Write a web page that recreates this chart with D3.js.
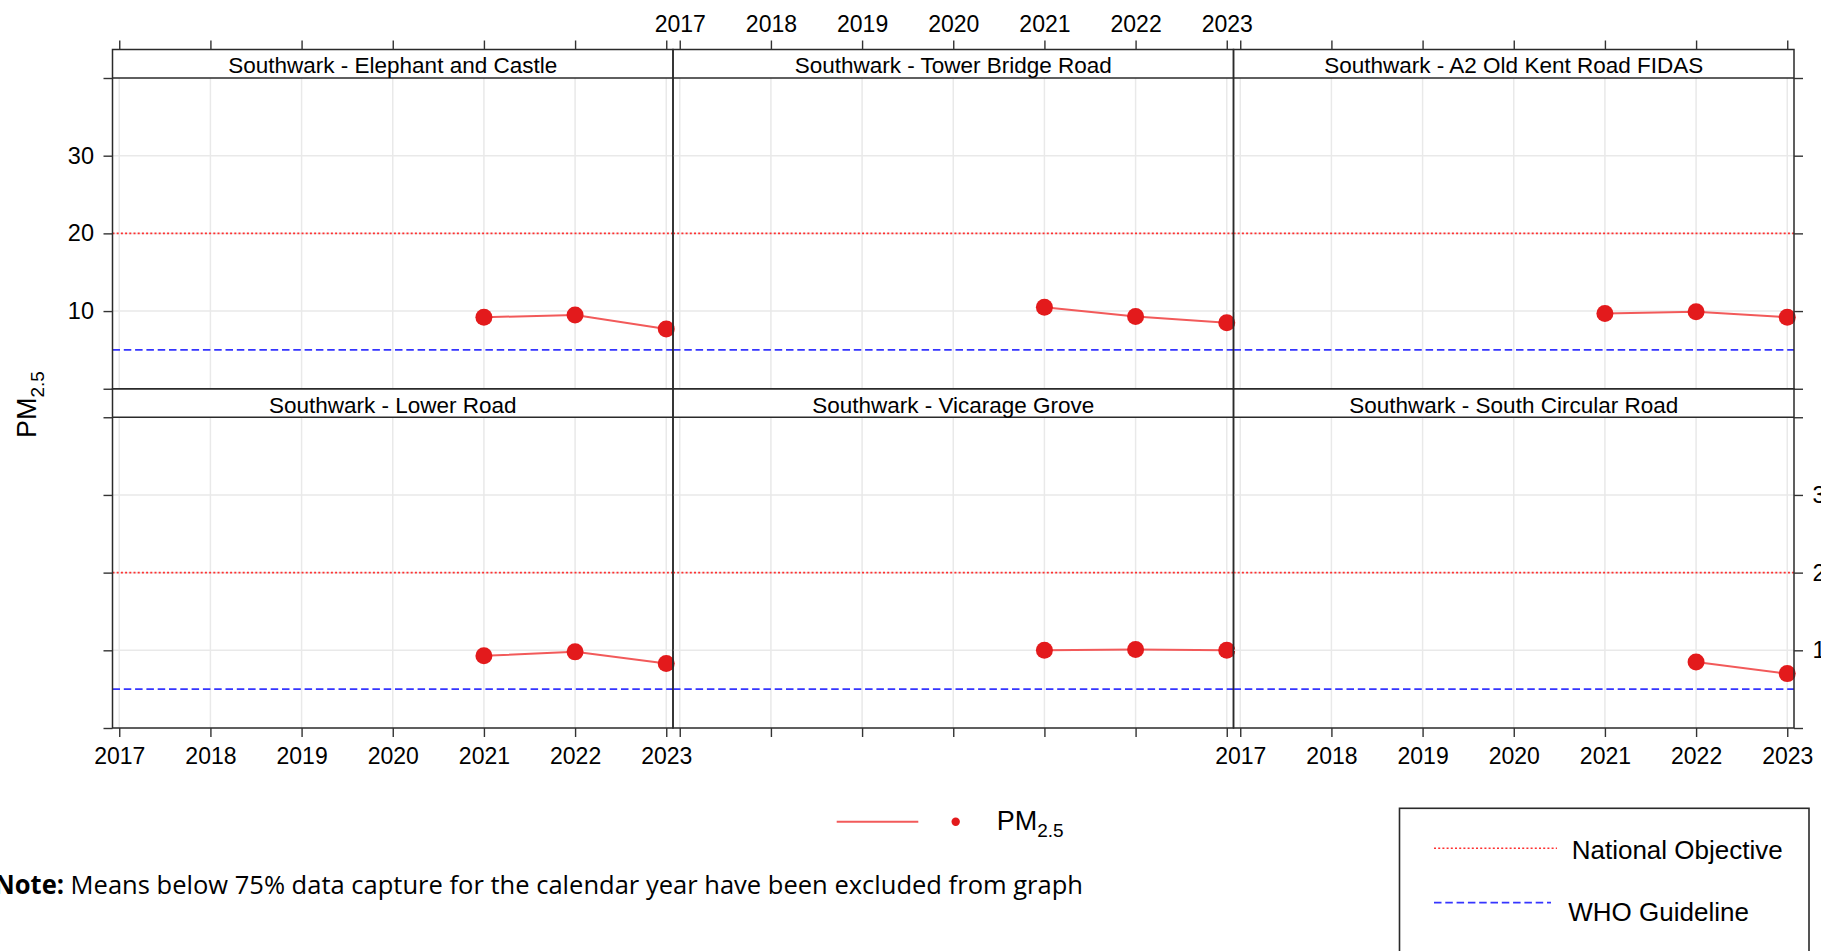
<!DOCTYPE html>
<html>
<head>
<meta charset="utf-8">
<script src="https://cdn.jsdelivr.net/npm/d3@7"></script>
<style>
  html, body { margin: 0; padding: 0; background: #ffffff; overflow: hidden; }
  svg { display: block; }
  text { font-family: "Liberation Sans", Arial, sans-serif; fill: #000; }
</style>
</head>
<body>
<script>
// ---------------- data ----------------
const years = [2017, 2018, 2019, 2020, 2021, 2022, 2023];
const siteNames = [
  "Southwark - Elephant and Castle",
  "Southwark - Tower Bridge Road",
  "Southwark - A2 Old Kent Road FIDAS",
  "Southwark - Lower Road",
  "Southwark - Vicarage Grove",
  "Southwark - South Circular Road"
];
const elephantCastle   = [null, null, null, null, 9.2, 9.5, 7.7];
const towerBridgeRoad  = [null, null, null, null, 10.5, 9.3, 8.5];
const oldKentRoadFidas = [null, null, null, null, 9.7, 9.9, 9.2];
const lowerRoad        = [null, null, null, null, 9.3, 9.8, 8.3];
const vicarageGrove    = [null, null, null, null, 10.0, 10.1, 10.0];
const southCircular    = [null, null, null, null, null, 8.5, 7.0];
const siteValues = [elephantCastle, towerBridgeRoad, oldKentRoadFidas, lowerRoad, vicarageGrove, southCircular];
const yTicks = [0, 10, 20, 30, 40];
const yTickLabels = [10, 20, 30];
const yDomain = [0, 40];
const nationalObjective = 20;
const whoGuideline = 5;

// ---------------- layout ----------------
const W = 1821, H = 951;
const plotLeft = 112.5, plotRight = 1794;
const panelW = (plotRight - plotLeft) / 3;
const top0 = 49.5, stripH = 28.5, panelH = 310.75;
const xPad = 0.074;
const tickLen = 9;
const FONT = '"Liberation Sans", Arial, sans-serif';

const svg = d3.select("body").append("svg").attr("width", W).attr("height", H);

const lineColor = "#f25a5a", dotColor = "#e31a1c";
const objColor = "#ff3030", whoColor = "#3535ff";

function styleAxis(g, fontSize) {
  g.select(".domain").remove();
  g.selectAll(".tick line").attr("stroke", "#333").attr("stroke-width", 1.4);
  g.selectAll(".tick text").style("font-family", FONT).style("font-size", fontSize + "px").attr("fill", "#000");
}

siteNames.forEach((name, i) => {
  const col = i % 3, row = Math.floor(i / 3);
  const x0 = plotLeft + col * panelW, x1 = x0 + panelW;
  const stripTop = top0 + row * (stripH + panelH);
  const plotTop = stripTop + stripH;
  const plotBottom = plotTop + panelH;

  const x = d3.scaleLinear().domain([years[0] - xPad, years[years.length - 1] + xPad]).range([x0, x1]);
  const y = d3.scaleLinear().domain(yDomain).range([plotBottom, plotTop]);

  const g = svg.append("g");

  // grid
  g.selectAll("line.vgrid").data(years).enter().append("line")
    .attr("x1", d => x(d)).attr("x2", d => x(d))
    .attr("y1", plotTop).attr("y2", plotBottom)
    .attr("stroke", "#e9e9e9").attr("stroke-width", 1.5);
  g.selectAll("line.hgrid").data(yTickLabels).enter().append("line")
    .attr("x1", x0).attr("x2", x1)
    .attr("y1", d => y(d)).attr("y2", d => y(d))
    .attr("stroke", "#e9e9e9").attr("stroke-width", 1.5);

  // reference lines
  g.append("line").attr("x1", x0).attr("x2", x1)
    .attr("y1", y(nationalObjective)).attr("y2", y(nationalObjective))
    .attr("stroke", objColor).attr("stroke-width", 1.6).attr("stroke-dasharray", "2,2.2");
  g.append("line").attr("x1", x0).attr("x2", x1)
    .attr("y1", y(whoGuideline)).attr("y2", y(whoGuideline))
    .attr("stroke", whoColor).attr("stroke-width", 1.8).attr("stroke-dasharray", "7.5,3.8");

  // series
  const pts = years.map((yr, k) => ({ yr, v: siteValues[i][k] }));
  const line = d3.line().defined(d => d.v != null).x(d => x(d.yr)).y(d => y(d.v));
  g.append("path").datum(pts).attr("d", line)
    .attr("fill", "none").attr("stroke", lineColor).attr("stroke-width", 2);
  g.selectAll("circle").data(pts.filter(d => d.v != null)).enter().append("circle")
    .attr("cx", d => x(d.yr)).attr("cy", d => y(d.v)).attr("r", 8.5)
    .attr("fill", dotColor);

  // strip
  g.append("rect").attr("x", x0).attr("y", stripTop).attr("width", panelW).attr("height", stripH + panelH)
    .attr("fill", "none").attr("stroke", "#2a2a2a").attr("stroke-width", 1.5);
  g.append("line").attr("x1", x0).attr("x2", x1).attr("y1", plotTop).attr("y2", plotTop)
    .attr("stroke", "#2a2a2a").attr("stroke-width", 1.5);
  g.append("text").attr("x", (x0 + x1) / 2).attr("y", stripTop + 23.8)
    .attr("text-anchor", "middle").style("font-size", "22.5px").text(name);

  // axes
  if (row === 0) {
    const ax = g.append("g").attr("transform", `translate(0,${stripTop})`)
      .call(d3.axisTop(x).tickValues(years).tickSize(tickLen).tickPadding(9)
        .tickFormat(col === 1 ? d3.format("d") : () => ""));
    styleAxis(ax, 23);
  } else {
    const ax = g.append("g").attr("transform", `translate(0,${plotBottom})`)
      .call(d3.axisBottom(x).tickValues(years).tickSize(tickLen).tickPadding(11)
        .tickFormat(col !== 1 ? d3.format("d") : () => ""));
    styleAxis(ax, 23);
  }
  if (col === 0) {
    const ax = g.append("g").attr("transform", `translate(${x0},0)`)
      .call(d3.axisLeft(y).tickValues(yTicks).tickSize(tickLen).tickPadding(9.5)
        .tickFormat(d => (row === 0 && yTickLabels.includes(d)) ? d : ""));
    styleAxis(ax, 23.5);
  }
  if (col === 2) {
    const ax = g.append("g").attr("transform", `translate(${x1},0)`)
      .call(d3.axisRight(y).tickValues(yTicks).tickSize(tickLen).tickPadding(9.5)
        .tickFormat(d => (row === 1 && yTickLabels.includes(d)) ? d : ""));
    styleAxis(ax, 23.5);
  }
});

// y-axis title
const yTitle = svg.append("text")
  .attr("transform", "translate(36,438) rotate(-90)")
  .attr("text-anchor", "start").style("font-size", "27px");
yTitle.append("tspan").text("PM");
yTitle.append("tspan").attr("dy", 7.5).style("font-size", "19px").text("2.5");

// series legend
const leg = svg.append("g");
leg.append("line").attr("x1", 836.7).attr("x2", 918.3).attr("y1", 821.7).attr("y2", 821.7)
  .attr("stroke", lineColor).attr("stroke-width", 2);
leg.append("circle").attr("cx", 955.7).attr("cy", 821.7).attr("r", 4.2).attr("fill", dotColor);
const legT = leg.append("text").attr("x", 996.7).attr("y", 829.5).style("font-size", "27px");
legT.append("tspan").text("PM");
legT.append("tspan").attr("dy", 7.5).style("font-size", "19px").text("2.5");

// reference legend box
const box = svg.append("g");
box.append("rect").attr("x", 1399.5).attr("y", 808.3).attr("width", 1809 - 1399.5).attr("height", 200)
  .attr("fill", "none").attr("stroke", "#2a2a2a").attr("stroke-width", 1.6);
box.append("line").attr("x1", 1434).attr("x2", 1557).attr("y1", 848.3).attr("y2", 848.3)
  .attr("stroke", objColor).attr("stroke-width", 1.6).attr("stroke-dasharray", "2,2.2");
box.append("text").attr("x", 1571.7).attr("y", 859.3).style("font-size", "26px").text("National Objective");
box.append("line").attr("x1", 1434).attr("x2", 1551).attr("y1", 902.7).attr("y2", 902.7)
  .attr("stroke", whoColor).attr("stroke-width", 1.8).attr("stroke-dasharray", "7.5,3.8");
box.append("text").attr("x", 1568.3).attr("y", 921).style("font-size", "26px").text("WHO Guideline");

// note
const note = svg.append("text").attr("x", -6).attr("y", 894)
  .attr("textLength", 1089).attr("lengthAdjust", "spacingAndGlyphs")
  .style("font-family", '"Liberation Sans Narrow", "Open Sans", sans-serif').style("font-size", "26px");
note.append("tspan").style("font-weight", "bold").text("Note:");
note.append("tspan").text(" Means below 75% data capture for the calendar year have been excluded from graph");
</script>
</body>
</html>
